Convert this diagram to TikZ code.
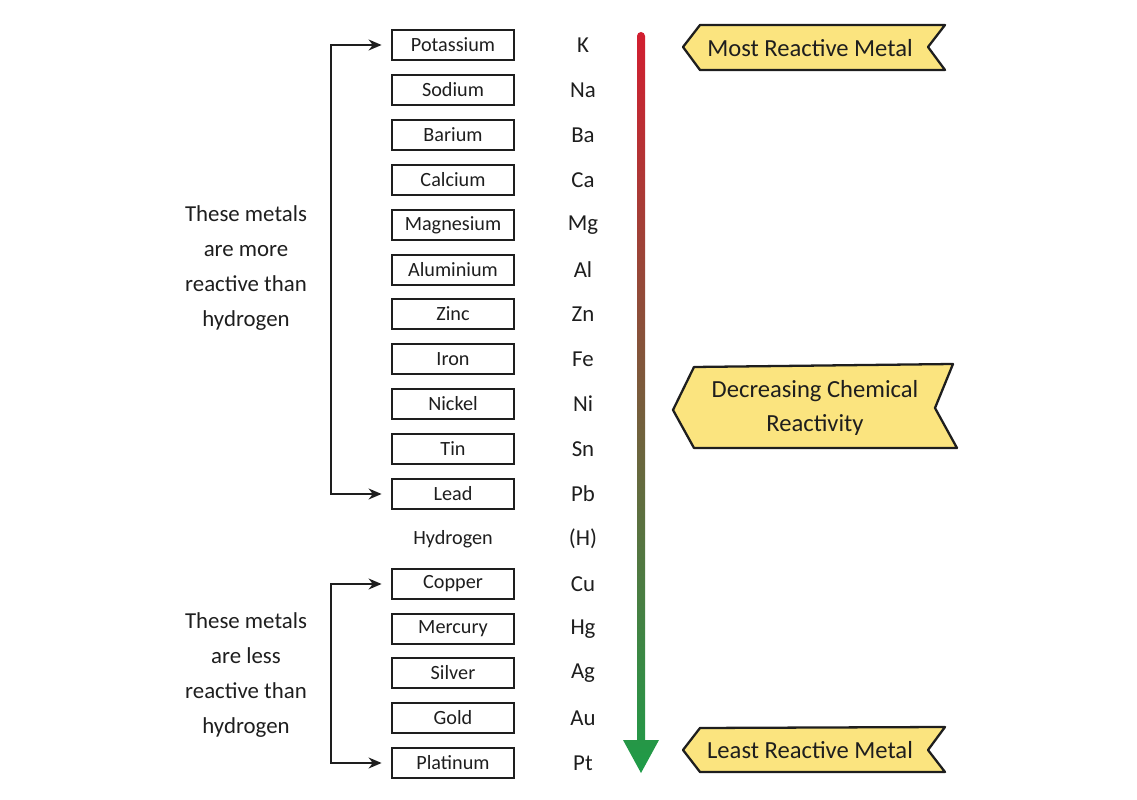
\documentclass[tikz,border=0pt]{standalone}
\usepackage{fontspec}
\setmainfont{Carlito}
\definecolor{rsInk}{HTML}{1E1E1E}
\definecolor{rsRed}{HTML}{D21E30}
\definecolor{rsGreen}{HTML}{1E9C48}
\definecolor{rsYellow}{HTML}{FBE47F}
\usetikzlibrary{arrows.meta,calc}

\begin{document}
\begin{tikzpicture}[
  x=0.02cm,y=-0.02cm,
  font=\fontsize{11.5}{13}\selectfont,
  metal/.style={draw=rsInk,line width=0.9pt,minimum width=2.44cm,minimum height=0.6cm,
                inner sep=0pt,text=rsInk},
  sym/.style={font=\fontsize{13}{15}\selectfont,text=rsInk},
  group/.style={font=\fontsize{13}{19.8}\selectfont,align=center,text=rsInk},
  banner/.style={draw=rsInk,line width=1.3pt,fill=rsYellow,line join=round},
  btext/.style={font=\fontsize{14}{19.8}\selectfont,align=center,text=rsInk},
  brk/.style={draw=rsInk,line width=0.9pt,<->,shorten <=5.5pt,shorten >=5.5pt},
  >={Stealth[length=2.6mm,width=2.2mm]}
]
\useasboundingbox (0,0) rectangle (1137,800);

% metals above hydrogen
\node[metal] (pot) at (453,45)  {Potassium};
\node[metal] (sod) at (453,90)  {Sodium};
\node[metal] (bar) at (453,135) {Barium};
\node[metal] (cal) at (453,180) {Calcium};
\node[metal] (mag) at (453,225) {Magnesium};
\node[metal] (alu) at (453,270) {Aluminium};
\node[metal] (zin) at (453,314) {Zinc};
\node[metal] (iro) at (453,359) {Iron};
\node[metal] (nic) at (453,404) {Nickel};
\node[metal] (tin) at (453,449) {Tin};
\node[metal] (lea) at (453,494) {Lead};
\node[text=rsInk] (hyd) at (453,539) {Hydrogen};
% metals below hydrogen
\node[metal] (cop) at (453,584) {Copper};
\node[metal] (mer) at (453,629) {Mercury};
\node[metal] (sil) at (453,673) {Silver};
\node[metal] (gol) at (453,718) {Gold};
\node[metal] (pla) at (453,763) {Platinum};

% symbols
\node[sym] at (583,45)  {K};
\node[sym] at (583,90)  {Na};
\node[sym] at (583,135) {Ba};
\node[sym] at (583,180) {Ca};
\node[sym] at (583,225) {Mg};
\node[sym] at (583,270) {Al};
\node[sym] at (583,314) {Zn};
\node[sym] at (583,359) {Fe};
\node[sym] at (583,404) {Ni};
\node[sym] at (583,449) {Sn};
\node[sym] at (583,494) {Pb};
\node[sym] at (583,539) {(H)};
\node[sym] at (583,584) {Cu};
\node[sym] at (583,629) {Hg};
\node[sym] at (583,673) {Ag};
\node[sym] at (583,718) {Au};
\node[sym] at (583,763) {Pt};

% brackets
\draw[brk] (pot.west) -- ++(-60,0) |- (lea.west);
\draw[brk] (cop.west) -- ++(-60,0) |- (pla.west);
\node[group] (more) at (246,268) {These metals\\are more\\reactive than\\hydrogen};
\node[group] (less) at (246,675) {These metals\\are less\\reactive than\\hydrogen};

% reactivity arrow
\coordinate (top) at (641,32);
\coordinate (tip) at (641,773);
\shade[top color=rsRed,bottom color=rsGreen]
  (637,36) arc[start angle=180,end angle=0,x radius=4,y radius=-4] -- (645,740) -- (659,740)
  -- (tip) -- (623,740) -- (637,740) -- cycle;

% banners
\draw[banner] (683,47) -- (700,25) -- (945,25) -- (928,47) -- (945,70) -- (700,70) -- cycle;
\node[btext] (most) at (810,48) {Most Reactive Metal};
\draw[banner] (673,410) -- (694,367) -- (953,364) -- (935,408) -- (957,448) -- (694,448) -- cycle;
\node[btext] (decr) at (815,408) {Decreasing Chemical\\Reactivity};
\draw[banner] (683,750) -- (700,728) -- (945,727) -- (928,750) -- (945,772) -- (700,772) -- cycle;
\node[btext] (least) at (810,750) {Least Reactive Metal};
\end{tikzpicture}
\end{document}
